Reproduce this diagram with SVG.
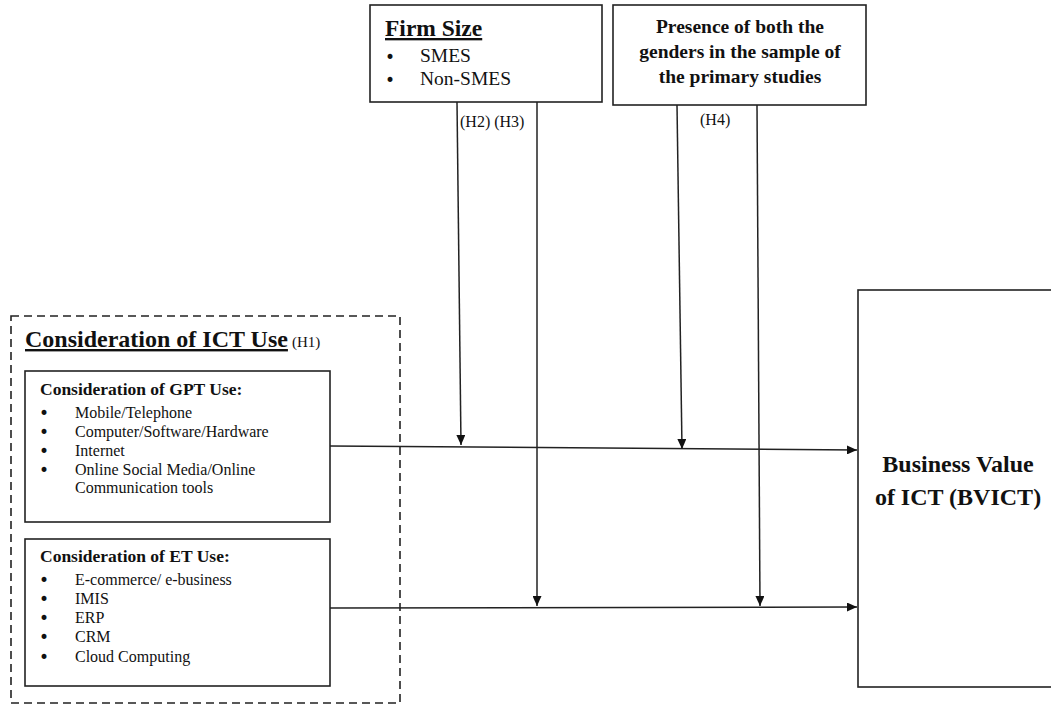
<svg xmlns="http://www.w3.org/2000/svg" width="1051" height="708" viewBox="0 0 1051 708">
<style>
.box{fill:#fff;stroke:#222;stroke-width:1.6}
.dash{fill:none;stroke:#222;stroke-width:1.6;stroke-dasharray:8 5}
.t{font-family:"Liberation Serif","Times New Roman",serif;fill:#111}
.b{font-weight:bold}
.ln{stroke:#222;stroke-width:1.5;fill:none}
.bul{font-family:"DejaVu Sans",sans-serif;fill:#111;font-size:17px}
</style>
<defs>
<marker id="ah" markerWidth="10" markerHeight="9" refX="10" refY="4.5" orient="auto" markerUnits="userSpaceOnUse">
<path d="M0,0 L10,4.5 L0,9 Z" fill="#111"/>
</marker>
</defs>
<rect width="1051" height="708" fill="#fff"/>

<g id="firm-size">
<rect class="box" x="370" y="5" width="232" height="97"/>
<text class="t b" x="385" y="36" font-size="23.5" text-decoration="underline">Firm Size</text>
<text class="bul" x="385" y="63">•</text>
<text class="t" x="420" y="62" font-size="19.5">SMES</text>
<text class="bul" x="385" y="86">•</text>
<text class="t" x="420" y="85" font-size="19.5">Non-SMES</text>
</g>

<g id="gender">
<rect class="box" x="613" y="5" width="253" height="100"/>
<text class="t b" x="740" y="33" font-size="19.5" text-anchor="middle">Presence of both the</text>
<text class="t b" x="740" y="58" font-size="19.5" text-anchor="middle">genders in the sample of</text>
<text class="t b" x="740" y="83" font-size="19.5" text-anchor="middle">the primary studies</text>
</g>

<g id="ict-use">
<rect class="dash" x="11" y="316" width="389" height="387"/>
<text class="t b" x="25" y="347" font-size="24" text-decoration="underline">Consideration of ICT Use</text>
<text class="t" x="292" y="347" font-size="15">(H1)</text>
</g>

<g id="gpt-use">
<rect class="box" x="25" y="371" width="305" height="151"/>
<text class="t b" x="40" y="395" font-size="17.5">Consideration of GPT Use:</text>
<g class="bul">
<text x="39" y="419">•</text><text x="39" y="438">•</text><text x="39" y="457">•</text><text x="39" y="476">•</text>
</g>
<g class="t" font-size="16">
<text x="75" y="418">Mobile/Telephone</text>
<text x="75" y="437">Computer/Software/Hardware</text>
<text x="75" y="456">Internet</text>
<text x="75" y="475">Online Social Media/Online</text>
<text x="75" y="493">Communication tools</text>
</g>
</g>

<g id="et-use">
<rect class="box" x="25" y="539" width="305" height="147"/>
<text class="t b" x="40" y="562" font-size="17.5">Consideration of ET Use:</text>
<g class="bul">
<text x="39" y="586">•</text><text x="39" y="605">•</text><text x="39" y="624">•</text><text x="39" y="643">•</text><text x="39" y="663">•</text>
</g>
<g class="t" font-size="16">
<text x="75" y="585">E-commerce/ e-business</text>
<text x="75" y="604">IMIS</text>
<text x="75" y="623">ERP</text>
<text x="75" y="642">CRM</text>
<text x="75" y="662">Cloud Computing</text>
</g>
</g>

<g id="bvict">
<rect class="box" x="858" y="290" width="200" height="397"/>
<text class="t b" x="958" y="472" font-size="24" text-anchor="middle">Business Value</text>
<text class="t b" x="958" y="505" font-size="24" text-anchor="middle">of ICT (BVICT)</text>
</g>

<g id="connectors">
<line class="ln" x1="330" y1="446" x2="857" y2="450" marker-end="url(#ah)"/>
<line class="ln" x1="330" y1="608" x2="857" y2="607" marker-end="url(#ah)"/>
<line class="ln" x1="457" y1="102" x2="461" y2="445" marker-end="url(#ah)"/>
<line class="ln" x1="537" y1="102" x2="537" y2="606" marker-end="url(#ah)"/>
<line class="ln" x1="677" y1="105" x2="682" y2="449" marker-end="url(#ah)"/>
<line class="ln" x1="757" y1="105" x2="760" y2="606" marker-end="url(#ah)"/>
<text class="t" x="460" y="127" font-size="16">(H2) (H3)</text>
<text class="t" x="700" y="125" font-size="16">(H4)</text>
</g>
</svg>
